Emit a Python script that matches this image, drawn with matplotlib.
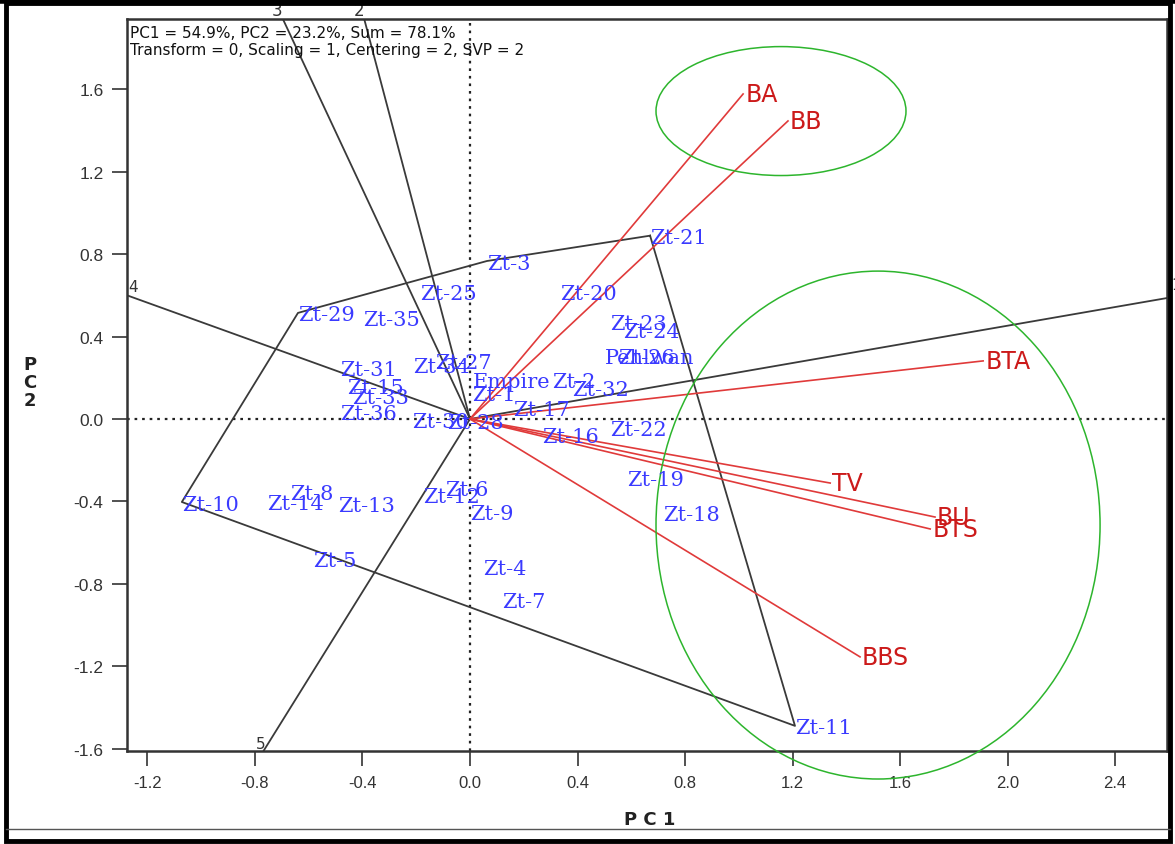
import matplotlib
matplotlib.use("Agg")
import matplotlib.pyplot as plt
from matplotlib.patches import Ellipse, Rectangle
from matplotlib.lines import Line2D
import numpy as np

# ---------------- data ----------------
genotypes = ['Zt-1', 'Empire', 'Zt-2', 'Zt-32', 'Zt-17', 'Zt-16', 'Zt-22', 'Zt-27', 'Zt-34',
             'Zt-31', 'Zt-15', 'Zt-33', 'Zt-36', 'Zt-30', 'Zt-28', 'Pehlwan', 'Zt-26', 'Zt-23',
             'Zt-24', 'Zt-20', 'Zt-25', 'Zt-35', 'Zt-29', 'Zt-3', 'Zt-21', 'Zt-6', 'Zt-12',
             'Zt-9', 'Zt-4', 'Zt-7', 'Zt-10', 'Zt-14', 'Zt-8', 'Zt-13', 'Zt-5', 'Zt-19',
             'Zt-18', 'Zt-11']
pc1_gen = [0.007, 0.011, 0.305, 0.380, 0.160, 0.268, 0.521, -0.130, -0.212,
           -0.484, -0.458, -0.439, -0.484, -0.216, -0.086, 0.502, 0.551, 0.521,
           0.569, 0.335, -0.186, -0.398, -0.640, 0.063, 0.670, -0.093, -0.175,
           0.000, 0.048, 0.119, -1.072, -0.755, -0.670, -0.491, -0.584, 0.584,
           0.718, 1.209]
pc2_gen = [0.131, 0.194, 0.194, 0.155, 0.058, -0.073, -0.039, 0.282, 0.267,
           0.252, 0.165, 0.112, 0.039, 0.000, -0.005, 0.311, 0.311, 0.476,
           0.437, 0.617, 0.617, 0.495, 0.515, 0.767, 0.890, -0.330, -0.364,
           -0.451, -0.714, -0.874, -0.403, -0.398, -0.350, -0.408, -0.675, -0.282,
           -0.456, -1.490]

environments = ['BA', 'BB', 'BTA', 'TV', 'BU', 'BTS', 'BBS']
pc1_env = [1.016, 1.183, 1.909, 1.340, 1.730, 1.712, 1.451]
pc2_env = [1.578, 1.447, 0.282, -0.311, -0.476, -0.534, -1.155]

# polygon (which-won-where) vertices and sector numbers of each edge
hull_order = ['Zt-21', 'Zt-3', 'Zt-29', 'Zt-10', 'Zt-11']
sector_labels = ['2', '3', '4', '5', '1']

# circled groups of environments: (centre x, centre y, width, height)
circles_cx = [1.157, 1.518]
circles_cy = [1.495, -0.515]
circles_w = [0.930, 1.652]
circles_h = [0.626, 2.466]

header1 = 'PC1 = 54.9%, PC2 = 23.2%, Sum = 78.1%'
header2 = 'Transform = 0, Scaling = 1, Centering = 2, SVP = 2'
xticks = [-1.2, -0.8, -0.4, 0.0, 0.4, 0.8, 1.2, 1.6, 2.0, 2.4]
yticks = [-1.6, -1.2, -0.8, -0.4, 0.0, 0.4, 0.8, 1.2, 1.6]

# ---------------- figure ----------------
W, H = 1175, 845
fig = plt.figure(figsize=(W / 100, H / 100), dpi=100)
ax = fig.add_axes([127 / W, 1 - 752 / H, (1167 - 127) / W, (752 - 20) / H])
XMIN, XMAX, YMIN, YMAX = -1.276, 2.593, -1.612, 1.942
ax.set_xlim(XMIN, XMAX)
ax.set_ylim(YMIN, YMAX)

blue = '#3a3aff'
red_line = '#e03a3a'
red_text = '#cc1a1a'
dark = '#3a3a3a'

# zero lines
ax.axhline(0, color='#222222', ls=(0, (1.2, 2.2)), lw=1.6, zorder=1)
ax.axvline(0, color='#222222', ls=(0, (1.2, 2.2)), lw=1.6, zorder=1)

gx = dict(zip(genotypes, pc1_gen))
gy = dict(zip(genotypes, pc2_gen))

# polygon
hx = [gx[n] for n in hull_order] + [gx[hull_order[0]]]
hy = [gy[n] for n in hull_order] + [gy[hull_order[0]]]
ax.plot(hx, hy, color=dark, lw=1.3, zorder=2)

# perpendicular sector lines
for i, lab in enumerate(sector_labels):
    p1 = np.array([gx[hull_order[i]], gy[hull_order[i]]])
    p2 = np.array([gx[hull_order[(i + 1) % len(hull_order)]], gy[hull_order[(i + 1) % len(hull_order)]]])
    d = p2 - p1
    f = p1 + np.dot(-p1, d) / np.dot(d, d) * d
    ts = []
    if f[0] > 0:
        ts.append((XMAX / f[0], 'right'))
    elif f[0] < 0:
        ts.append((XMIN / f[0], 'left'))
    if f[1] > 0:
        ts.append((YMAX / f[1], 'top'))
    elif f[1] < 0:
        ts.append((YMIN / f[1], 'bottom'))
    t, side = min(ts, key=lambda s: s[0])
    e = f * t
    ax.plot([0, e[0]], [0, e[1]], color=dark, lw=1.3, zorder=2)
    if side == 'top':
        ax.annotate(lab, (e[0], e[1]), xytext=(-4, 0), textcoords='offset points',
                    ha='center', va='bottom', fontsize=12, color='#333333', clip_on=False)
    elif side == 'left':
        ax.annotate(lab, (e[0], e[1]), xytext=(1, 1), textcoords='offset points',
                    ha='left', va='bottom', fontsize=11, color='#333333')
    elif side == 'bottom':
        ax.annotate(lab, (e[0], e[1]), xytext=(-2, 0), textcoords='offset points',
                    ha='center', va='bottom', fontsize=11, color='#333333')
    else:
        ax.annotate(lab, (e[0], e[1]), xytext=(3, 4), textcoords='offset points',
                    ha='left', va='bottom', fontsize=11, color='#333333',
                    annotation_clip=False)

# environment vectors
for n, x, y in zip(environments, pc1_env, pc2_env):
    ax.plot([0, x], [0, y], color=red_line, lw=1.2, zorder=3)
    ax.annotate(n, (x, y), xytext=(1.5, 0), textcoords='offset points', ha='left',
                va='center', fontsize=17, color=red_text, family='DejaVu Sans', zorder=5)

# genotype labels
for n, x, y in zip(genotypes, pc1_gen, pc2_gen):
    ax.annotate(n, (x, y), xytext=(0, -1.5), textcoords='offset points', ha='left',
                va='center', fontsize=15, color=blue, family='DejaVu Serif', zorder=4)

# circles
for cx, cy, w, h in zip(circles_cx, circles_cy, circles_w, circles_h):
    ax.add_patch(Ellipse((cx, cy), w, h, fill=False, edgecolor='#2db52d', lw=1.1,
                         zorder=3, clip_on=False))

# header text
ax.text(0.003, 0.992, header1, transform=ax.transAxes, ha='left', va='top',
        fontsize=11, color='#111111')
ax.text(0.003, 0.969, header2, transform=ax.transAxes, ha='left', va='top',
        fontsize=11, color='#111111')

# ticks & spines
ax.set_xticks(xticks)
ax.set_yticks(yticks)
ax.set_xticklabels([f'{v:.1f}' for v in xticks], family='Liberation Sans', fontsize=12, color='#333333')
ax.set_yticklabels([f'{v:.1f}' for v in yticks], family='Liberation Sans', fontsize=12.5, color='#333333')
ax.tick_params(direction='out', length=11, width=1.2, color='#333333', pad=6)
for s in ax.spines.values():
    s.set_linewidth(1.8)
    s.set_color('#333333')

fig.text(650 / W, 1 - 820 / H, 'P C 1', ha='center', va='center', fontsize=13,
         fontweight='bold', color='#222222')
fig.text(30 / W, 1 - 383 / H, 'P\nC\n2', ha='center', va='center', fontsize=13,
         fontweight='bold', color='#222222', linespacing=1.0)

# outer frame
fig.add_artist(Rectangle((6 / W, 3 / H), (1170 - 6) / W, (841 - 3) / H, transform=fig.transFigure,
                         fill=False, edgecolor='black', lw=3.5))
fig.add_artist(Line2D([6 / W, 1170 / W], [1 - 830 / H, 1 - 830 / H], transform=fig.transFigure,
                      color='#555555', lw=1.0))
fig.add_artist(Line2D([0, 1], [1 - 1.5 / H, 1 - 1.5 / H], transform=fig.transFigure,
                      color='black', lw=4))

fig.savefig('out.png', dpi=100)
